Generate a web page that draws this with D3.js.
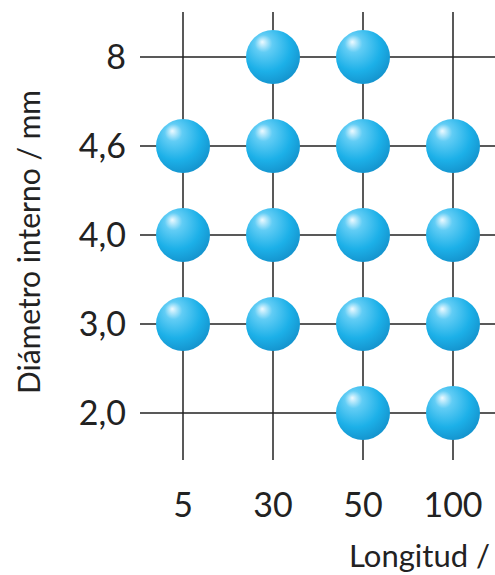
<!DOCTYPE html>
<html><head><meta charset="utf-8">
<script src="https://cdn.jsdelivr.net/npm/d3@7"></script>
<style>body{margin:0;background:#fff}</style>
</head><body><div id="chart"></div>
<script>
var lengths = ["5", "30", "50", "100"];
var diameters = ["8", "4,6", "4,0", "3,0", "2,0"];
// which lengths exist for each diameter
var available = {
  "8": ["30", "50"],
  "4,6": ["5", "30", "50", "100"],
  "4,0": ["5", "30", "50", "100"],
  "3,0": ["5", "30", "50", "100"],
  "2,0": ["50", "100"]
};

var svg = d3.select("#chart").append("svg").attr("width", 495).attr("height", 575);

var x = d3.scalePoint().domain(lengths).range([183, 453]);
var y = d3.scalePoint().domain(diameters).range([57, 413]);

var defs = svg.append("defs");
var g = defs.append("radialGradient").attr("id", "ball")
  .attr("cx", "40%").attr("cy", "35%").attr("r", "65%").attr("fx", "30%").attr("fy", "22%");
g.append("stop").attr("offset", "0%").attr("stop-color", "#eefaff");
g.append("stop").attr("offset", "25%").attr("stop-color", "#62cdf5");
g.append("stop").attr("offset", "70%").attr("stop-color", "#1cb0e8");
g.append("stop").attr("offset", "100%").attr("stop-color", "#1596d0");

var grid = svg.append("g").attr("stroke", "#222").attr("stroke-width", 1.5);
grid.selectAll(".v").data(lengths).enter().append("line")
  .attr("x1", function (d) { return x(d); }).attr("x2", function (d) { return x(d); })
  .attr("y1", 12).attr("y2", 460);
grid.selectAll(".h").data(diameters).enter().append("line")
  .attr("y1", function (d) { return y(d); }).attr("y2", function (d) { return y(d); })
  .attr("x1", 140).attr("x2", 495);

var font = "Lato, 'Open Sans', sans-serif";

svg.selectAll(".yl").data(diameters).enter().append("text")
  .attr("x", 126).attr("y", function (d) { return y(d) + 12; })
  .attr("text-anchor", "end").attr("font-size", 34).attr("font-family", font).attr("fill", "#222")
  .text(function (d) { return d; });

svg.selectAll(".xl").data(lengths).enter().append("text")
  .attr("x", function (d) { return x(d); }).attr("y", 517)
  .attr("text-anchor", "middle").attr("font-size", 34).attr("font-family", font).attr("fill", "#222")
  .text(function (d) { return d; });

svg.append("text").attr("transform", "translate(40,242) rotate(-90)")
  .attr("text-anchor", "middle").attr("font-size", 30).attr("font-family", font).attr("fill", "#222")
  .text("Diámetro interno / mm");

svg.append("text").attr("x", 490).attr("y", 567).attr("text-anchor", "end")
  .attr("font-size", 31).attr("font-family", font).attr("fill", "#222").text("Longitud /");

var points = [];
diameters.forEach(function (d) {
  available[d].forEach(function (l) { points.push({ d: d, l: l }); });
});

svg.selectAll(".ball").data(points).enter().append("circle")
  .attr("cx", function (p) { return x(p.l); })
  .attr("cy", function (p) { return y(p.d); })
  .attr("r", 27).attr("fill", "url(#ball)");
</script></body></html>
